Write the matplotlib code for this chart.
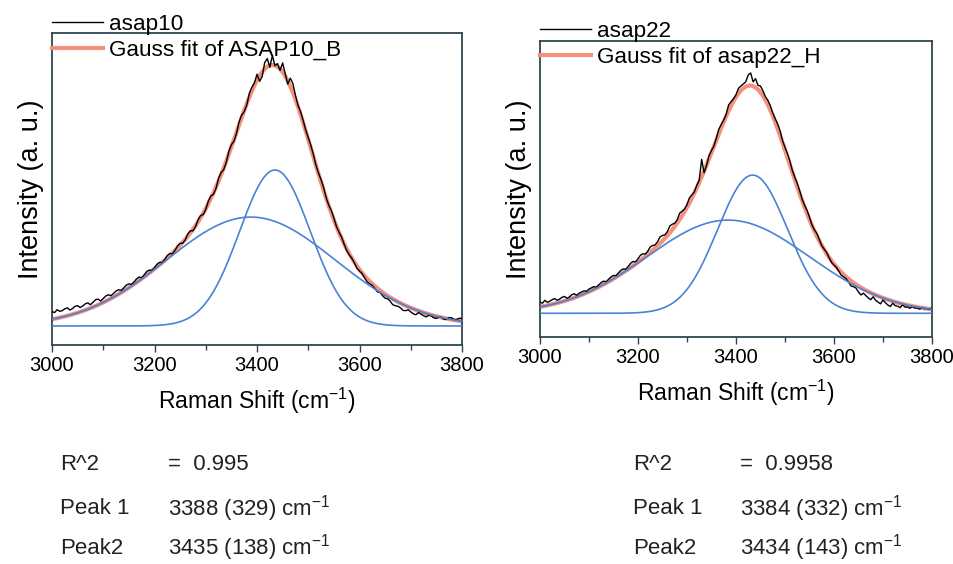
import numpy as np
import matplotlib
matplotlib.use("Agg")
import matplotlib.pyplot as plt
from matplotlib.ticker import MultipleLocator

plt.rcParams["font.family"] = ["Liberation Sans", "DejaVu Sans"]
plt.rcParams["mathtext.fontset"] = "custom"
plt.rcParams["mathtext.rm"] = "Liberation Sans"
plt.rcParams["mathtext.default"] = "regular"

# measured spectra, sampled every 5 cm-1 (intensity in arbitrary units)
shift = np.arange(3000, 3801, 5)
asap10 = [
    0.107, 0.104, 0.113, 0.108, 0.110, 0.116, 0.119, 0.112, 0.117, 0.124,
    0.126, 0.120, 0.125, 0.132, 0.135, 0.129, 0.137, 0.145, 0.147, 0.141,
    0.149, 0.157, 0.161, 0.158, 0.165, 0.173, 0.177, 0.175, 0.183, 0.192,
    0.196, 0.194, 0.202, 0.212, 0.218, 0.215, 0.225, 0.236, 0.240, 0.239,
    0.248, 0.259, 0.265, 0.264, 0.274, 0.287, 0.293, 0.292, 0.303, 0.318,
    0.326, 0.326, 0.337, 0.356, 0.366, 0.366, 0.379, 0.401, 0.415, 0.418,
    0.434, 0.461, 0.478, 0.483, 0.502, 0.534, 0.553, 0.562, 0.585, 0.620,
    0.642, 0.653, 0.678, 0.715, 0.737, 0.748, 0.769, 0.806, 0.826, 0.840,
    0.868, 0.845, 0.860, 0.905, 0.918, 0.890, 0.928, 0.895, 0.902, 0.880,
    0.904, 0.870, 0.836, 0.855, 0.838, 0.800, 0.768, 0.748, 0.720, 0.689,
    0.664, 0.640, 0.611, 0.576, 0.551, 0.530, 0.504, 0.472, 0.448, 0.431,
    0.407, 0.380, 0.362, 0.346, 0.323, 0.303, 0.289, 0.278, 0.263, 0.246,
    0.237, 0.229, 0.215, 0.202, 0.196, 0.191, 0.181, 0.170, 0.168, 0.158,
    0.150, 0.148, 0.140, 0.129, 0.126, 0.124, 0.119, 0.111, 0.110, 0.113,
    0.106, 0.100, 0.097, 0.104, 0.099, 0.094, 0.090, 0.096, 0.093, 0.087,
    0.085, 0.090, 0.089, 0.082, 0.083, 0.088, 0.087, 0.080, 0.082, 0.086,
    0.085,
]
asap22 = [
    0.118, 0.114, 0.124, 0.117, 0.121, 0.126, 0.130, 0.124, 0.128, 0.134,
    0.137, 0.131, 0.135, 0.143, 0.146, 0.141, 0.148, 0.152, 0.156, 0.154,
    0.162, 0.166, 0.170, 0.168, 0.176, 0.184, 0.189, 0.186, 0.195, 0.203,
    0.208, 0.207, 0.216, 0.225, 0.230, 0.229, 0.238, 0.249, 0.255, 0.254,
    0.264, 0.276, 0.281, 0.280, 0.290, 0.304, 0.309, 0.311, 0.322, 0.338,
    0.343, 0.345, 0.356, 0.375, 0.381, 0.384, 0.396, 0.418, 0.425, 0.432,
    0.447, 0.470, 0.480, 0.490, 0.512, 0.530, 0.600, 0.555, 0.580, 0.612,
    0.630, 0.645, 0.672, 0.702, 0.718, 0.733, 0.752, 0.784, 0.795, 0.805,
    0.818, 0.840, 0.848, 0.855, 0.862, 0.885, 0.892, 0.862, 0.873, 0.850,
    0.848, 0.832, 0.812, 0.800, 0.782, 0.757, 0.738, 0.720, 0.697, 0.664,
    0.641, 0.620, 0.595, 0.563, 0.540, 0.520, 0.494, 0.466, 0.445, 0.428,
    0.405, 0.379, 0.362, 0.350, 0.330, 0.309, 0.297, 0.286, 0.268, 0.252,
    0.243, 0.235, 0.222, 0.208, 0.203, 0.196, 0.185, 0.172, 0.170, 0.165,
    0.152, 0.142, 0.148, 0.140, 0.132, 0.126, 0.136, 0.124, 0.118, 0.112,
    0.125, 0.116, 0.108, 0.103, 0.114, 0.106, 0.104, 0.099, 0.109, 0.101,
    0.101, 0.097, 0.103, 0.098, 0.098, 0.094, 0.100, 0.095, 0.096, 0.093,
    0.097,
]

# Gauss fit parameters: offset, centres, widths (w = 2 sigma), heights
offset = [0.061, 0.080]
centres = [[3388, 3435], [3384, 3434]]
widths = [[329, 138], [332, 143]]
heights = [[0.349, 0.500], [0.315, 0.467]]

names = ["asap10", "asap22"]
fit_names = ["Gauss fit of ASAP10_B", "Gauss fit of asap22_H"]
r2 = ["0.995", "0.9958"]

fig = plt.figure(figsize=(9.54, 5.64), dpi=100)
axes = [fig.add_axes([0.0545, 0.3883, 0.4298, 0.5532]),
        fig.add_axes([0.566, 0.4025, 0.4109, 0.5248])]
legend_top = [1.061, 1.069]

xf = np.linspace(3000, 3800, 801)
spectra = [asap10, asap22]
for i, ax in enumerate(axes):
    comps = []
    for c, w, h in zip(centres[i], widths[i], heights[i]):
        comps.append(offset[i] + h * np.exp(-2 * ((xf - c) / w) ** 2))
    total = comps[0] + comps[1] - offset[i]
    ax.plot(shift, spectra[i], color="black", lw=1.0, label=names[i], zorder=3)
    ax.plot(xf, total, color="#f4907c", lw=3, label=fit_names[i], zorder=2)
    for comp in comps:
        ax.plot(xf, comp, color="#4a82d6", lw=1.2, zorder=4)

    ax.set_xlim(3000, 3800)
    ax.set_ylim(0, 1)
    ax.set_yticks([])
    ax.xaxis.set_major_locator(MultipleLocator(200))
    ax.xaxis.set_minor_locator(MultipleLocator(100))
    ax.tick_params(axis="x", which="major", direction="out", length=5,
                   width=1, labelsize=14.5, color="#2f4550", pad=3)
    ax.tick_params(axis="x", which="minor", direction="out", length=3.5,
                   width=1, color="#2f4550")
    for sp in ax.spines.values():
        sp.set_color("#2f4550")
        sp.set_linewidth(1.3)
    ax.set_xlabel("Raman Shift (cm$^{-1}$)", fontsize=16.5, labelpad=8)
    ax.set_ylabel("Intensity (a. u.)", fontsize=19.5, labelpad=6)
    ax.legend(loc="upper left", bbox_to_anchor=(0, legend_top[i]),
              frameon=False, fontsize=16.2, handlelength=2.25,
              handletextpad=0.3, labelspacing=0.22, borderpad=0,
              borderaxespad=0)

# fit results under each panel
cols = [(60, 168), (633, 740)]
rows = [465, 509, 548]
peak_txt = [["3388 (329) cm$^{-1}$", "3435 (138) cm$^{-1}$"],
            ["3384 (332) cm$^{-1}$", "3434 (143) cm$^{-1}$"]]
for i, (xl, xv) in enumerate(cols):
    labels = ["R^2", "Peak 1", "Peak2"]
    values = ["=  " + r2[i], peak_txt[i][0], peak_txt[i][1]]
    for lab, val, y in zip(labels, values, rows):
        fig.text(xl / 954, 1 - y / 564, lab, fontsize=16, va="center",
                 color="#222222")
        fig.text(xv / 954, 1 - y / 564, val, fontsize=16, va="center",
                 color="#222222")

fig.savefig("out.png", dpi=100)
